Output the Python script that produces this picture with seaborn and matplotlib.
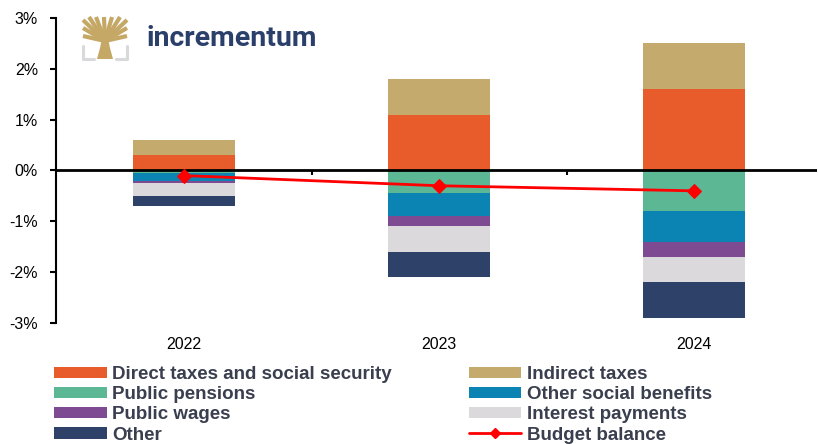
import numpy as np
import matplotlib
matplotlib.use("Agg")
import matplotlib.pyplot as plt
import seaborn as sns
from matplotlib.patches import Patch, Polygon
from matplotlib.lines import Line2D

sns.set_theme(style="white")
plt.rcParams["font.family"] = ["Liberation Sans", "DejaVu Sans"]

# Contributions to the change in the fiscal balance, % of GDP
years = ["2022", "2023", "2024"]
direct_taxes = [0.3, 1.1, 1.6]
indirect_taxes = [0.3, 0.7, 0.9]
public_pensions = [-0.05, -0.45, -0.8]
other_social_benefits = [-0.15, -0.45, -0.6]
public_wages = [-0.05, -0.2, -0.3]
interest_payments = [-0.25, -0.5, -0.5]
other = [-0.2, -0.5, -0.7]
budget_balance = [-0.1, -0.3, -0.4]

labels = {
    "direct": "Direct taxes and social security",
    "indirect": "Indirect taxes",
    "pensions": "Public pensions",
    "social": "Other social benefits",
    "wages": "Public wages",
    "interest": "Interest payments",
    "other": "Other",
    "budget": "Budget balance",
}
colors = {
    "direct": "#E85C2B",
    "indirect": "#C4AA6D",
    "pensions": "#5BB794",
    "social": "#0B83B3",
    "wages": "#7E4A91",
    "interest": "#DBD9DC",
    "other": "#2E4169",
    "budget": "#FF0000",
}

fig = plt.figure(figsize=(8.18, 4.44), dpi=100)
ax = fig.add_axes([56 / 818, 1 - 323 / 444, (817 - 56) / 818, (323 - 18) / 444])

bar_w = 0.4

# Stacks are drawn as cumulative totals, outermost layer first
pos_layers = [("direct", direct_taxes), ("indirect", indirect_taxes)]
neg_layers = [("pensions", public_pensions), ("social", other_social_benefits),
              ("wages", public_wages), ("interest", interest_payments),
              ("other", other)]

for layers in (pos_layers, neg_layers):
    cum = np.cumsum([np.array(v, dtype=float) for _, v in layers], axis=0)
    for (key, _), tops in reversed(list(zip(layers, cum))):
        sns.barplot(x=years, y=tops, color=colors[key], width=bar_w,
                    saturation=1, ax=ax, zorder=2, linewidth=0)

ax.axhline(0, color="black", lw=2, zorder=3)

# Separators between categories on the zero line
n = len(years)
ax.vlines(np.arange(n - 1) + 0.5, 0, -0.09, color="black", lw=1.5, zorder=3)

sns.lineplot(x=np.arange(n), y=budget_balance, color=colors["budget"], lw=2,
             marker="D", markersize=7, markeredgecolor=colors["budget"],
             ax=ax, zorder=5)

ax.set_ylim(-3, 3)
ax.set_xlim(-0.502, 2.482)
ax.set_yticks(np.arange(-3, 4, 1))
ax.set_yticklabels([f"{v}%" for v in range(-3, 4)])
ax.set_xticks(np.arange(n))
ax.set_xticklabels(years)
ax.set_xlabel("")
ax.set_ylabel("")
for s in ["top", "right", "bottom"]:
    ax.spines[s].set_visible(False)
ax.spines["left"].set_color("black")
ax.spines["left"].set_linewidth(1.5)
ax.tick_params(axis="y", direction="out", length=4, width=1.5, color="black",
               labelsize=11.5, labelcolor="black", pad=9, left=True)
ax.tick_params(axis="x", length=0, labelsize=11.5, labelcolor="black", pad=10)

# Legend (two columns, row-major reading order)
h = {k: Patch(facecolor=colors[k], edgecolor="none") for k in colors if k != "budget"}
h["budget"] = Line2D([], [], color=colors["budget"], lw=2, marker="D", markersize=5)
order = ["direct", "pensions", "wages", "other", "indirect", "social", "interest", "budget"]
leg = fig.legend([h[k] for k in order], [labels[k] for k in order], ncol=2,
                 loc="upper left", bbox_to_anchor=(54 / 818, 1 - 366 / 444),
                 frameon=False, handlelength=2.8, handleheight=0.55,
                 handletextpad=0.3, columnspacing=4.1, labelspacing=0.17,
                 borderaxespad=0, borderpad=0,
                 prop={"family": ["Liberation Sans Narrow", "Liberation Sans"],
                       "weight": "bold", "size": 13.5})
for t in leg.get_texts():
    t.set_color("#3A3F4F")

# Brand mark
logo = fig.add_axes([80 / 818, 1 - 62 / 444, 50 / 818, 46 / 444])
logo.set_xlim(0, 50)
logo.set_ylim(0, 46)
logo.axis("off")
gold = "#C5A865"
grey = "#D9D9DB"
logo.add_patch(Polygon([[17, 3], [33, 3], [30, 14], [28, 24], [22, 24], [20, 14]],
                       closed=True, facecolor=gold, edgecolor="none"))
for x_end, y_end in [(3, 34), (3, 42), (9, 45), (16, 45), (24, 45),
                     (32, 45), (40, 45), (47, 42), (47, 34), (3, 26), (47, 26)]:
    logo.plot([25, x_end], [21, y_end], color=gold, lw=3.0, solid_capstyle="butt")
logo.plot([3, 3, 14], [16, 3, 3], color=grey, lw=2.2)
logo.plot([47, 47, 36], [16, 3, 3], color=grey, lw=2.2)

fig.text(147 / 818, 1 - 39 / 444, "incrementum", color="#2B3F6B",
         fontsize=20.5, fontweight="bold", family=["Roboto", "DejaVu Sans"],
         va="center", ha="left")

fig.savefig("out.png", dpi=100)
